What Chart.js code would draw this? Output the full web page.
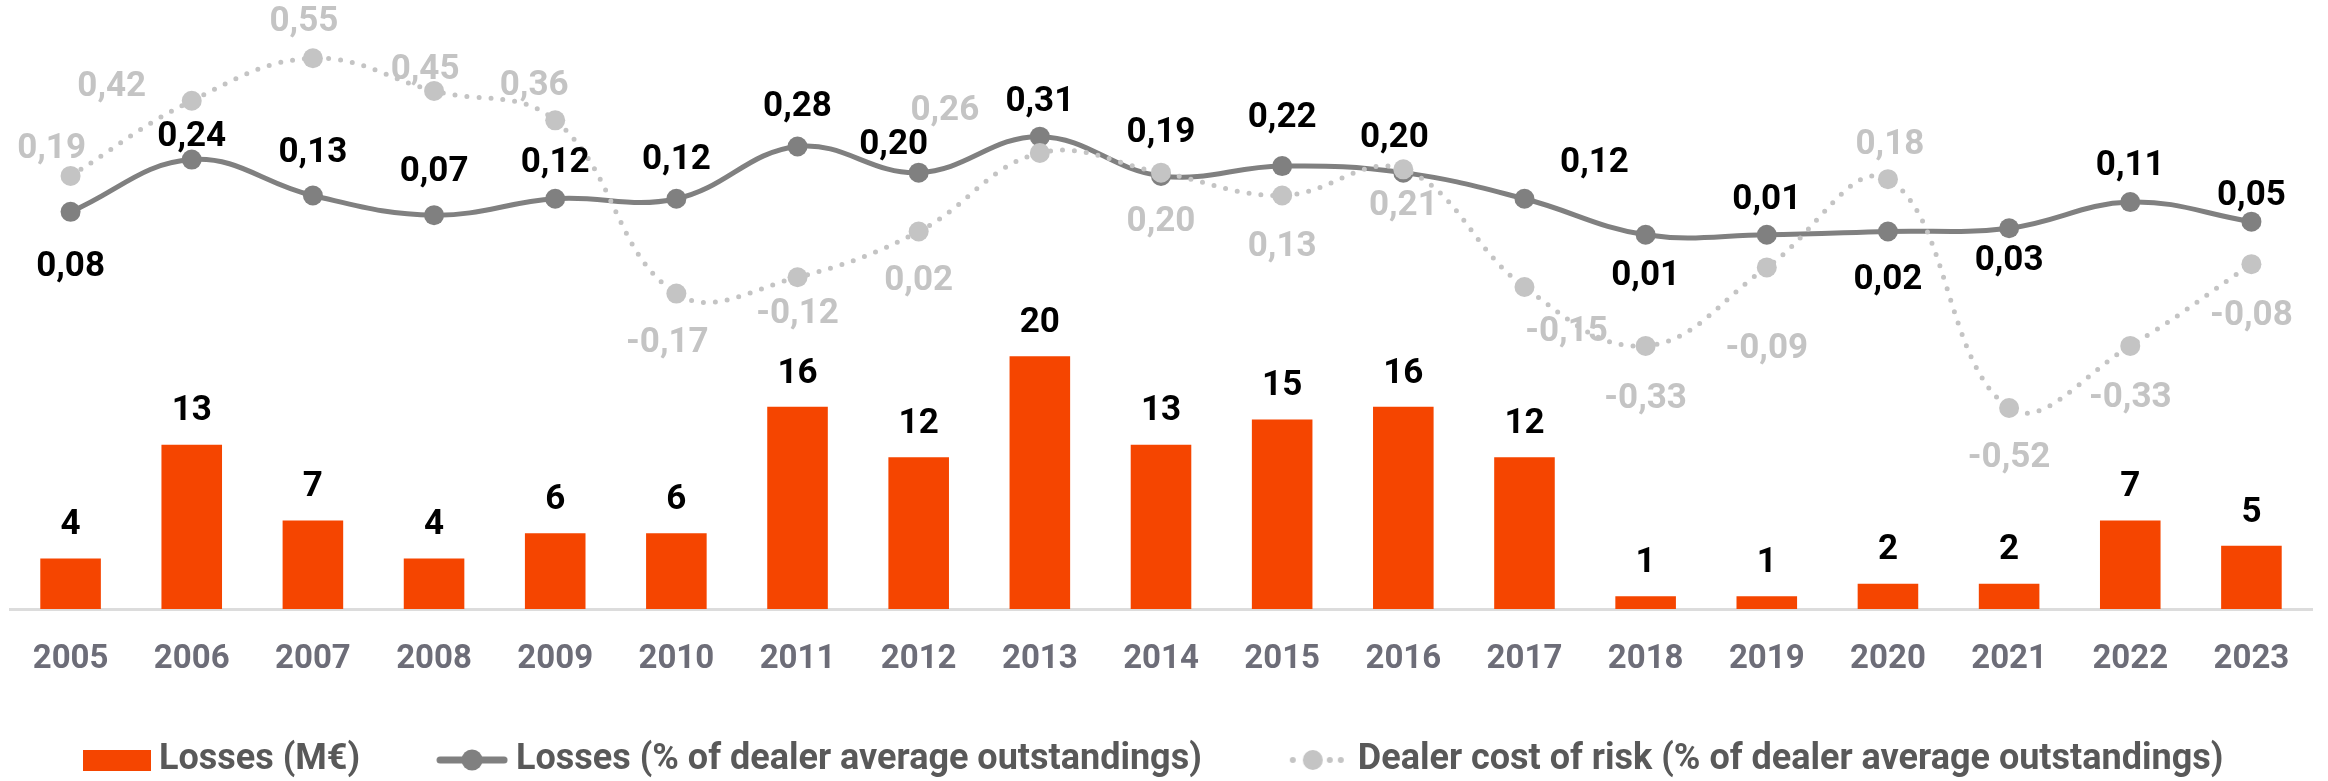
<!DOCTYPE html>
<html>
<head>
<meta charset="utf-8">
<script src="https://cdn.jsdelivr.net/npm/chart.js@4.4.1/dist/chart.umd.min.js"></script>
<style>
html, body { margin: 0; padding: 0; background: #fff; }
#caja { width: 2328px; height: 781px; }
</style>
</head>
<body>
<div id="caja"><canvas id="grafica"></canvas></div>
<script>
var years = ['2005','2006','2007','2008','2009','2010','2011','2012','2013','2014','2015','2016','2017','2018','2019','2020','2021','2022','2023'];
var lossesMeur = [4, 13, 7, 4, 6, 6, 16, 12, 20, 13, 15, 16, 12, 1, 1, 2, 2, 7, 5];
var lossesPct = [0.08, 0.24, 0.13, 0.07, 0.12, 0.12, 0.28, 0.20, 0.31, 0.19, 0.22, 0.20, 0.12, 0.01, 0.01, 0.02, 0.03, 0.11, 0.05];
var dealerCor = [0.19, 0.42, 0.55, 0.45, 0.36, -0.17, -0.12, 0.02, 0.26, 0.20, 0.13, 0.21, -0.15, -0.33, -0.09, 0.18, -0.52, -0.33, -0.08];

// nudges for the value labels (px from the point)
var pctDx = [0, 0, 0, 0, 0, 0, 0, -25, 0, 0, 0, -9, 70, 0, 0, 0, 0, 0, 0];
var pctDy = [55, -22, -42, -43, -36, -39, -39, -27, -34, -43, -48, -34, -36, 42, -34, 49, 33, -36, -25];
var corDx = [-19, -80, -9, -9, -21, -9, 0, 0, -95, 0, 0, 0, 42, 0, 0, 2, 0, 0, 0];
var corDy = [-27, -13, -36, -21, -34, 50, 37, 50, -42, 50, 52, 37, 45, 53, 82, -34, 50, 52, 52];

var naranja = '#F54500';
var gris = '#808080';
var claro = '#C4C4C4';
var fuente = 'Roboto';

function fmt(v){
    return v.toFixed(2).replace('.', ',');
}

// legend icons, drawn flush to the right so the text sits close
function icono(tipo){
    var c = document.createElement('canvas');
    c.width = 148; c.height = 24;
    var g = c.getContext('2d');
    if(tipo == 'bar'){
        g.fillStyle = naranja;
        g.fillRect(80, 2, 68, 21);
    } else if(tipo == 'line'){
        g.strokeStyle = gris; g.lineWidth = 7; g.lineCap = 'round';
        g.beginPath(); g.moveTo(80, 12); g.lineTo(144, 12); g.stroke();
        g.fillStyle = gris;
        g.beginPath(); g.arc(112, 12, 10.5, 0, 2*Math.PI); g.fill();
    } else {
        g.fillStyle = claro;
        g.beginPath(); g.arc(111, 12, 10, 0, 2*Math.PI); g.fill();
        [91, 128, 139].forEach(function(x){
            g.beginPath(); g.arc(x, 12, 3, 0, 2*Math.PI); g.fill();
        });
    }
    return c;
}
var iconos = [icono('bar'), icono('line'), icono('dots')];

var etiquetas = {
    id: 'etiquetas',
    afterDatasetsDraw: function(chart){
        var ctx = chart.ctx;
        ctx.save();
        ctx.font = '700 35px ' + fuente;
        ctx.textAlign = 'center';
        ctx.textBaseline = 'middle';
        chart.getDatasetMeta(0).data.forEach(function(bar, i){
            ctx.fillStyle = '#000';
            ctx.fillText(String(lossesMeur[i]), bar.x, bar.y - 33);
        });
        chart.getDatasetMeta(2).data.forEach(function(p, i){
            ctx.fillStyle = claro;
            ctx.fillText(fmt(dealerCor[i]), p.x + corDx[i], p.y + corDy[i]);
        });
        chart.getDatasetMeta(1).data.forEach(function(p, i){
            ctx.fillStyle = '#000';
            ctx.fillText(fmt(lossesPct[i]), p.x + pctDx[i], p.y + pctDy[i]);
        });
        ctx.restore();
    }
};

var ctx = document.getElementById('grafica').getContext('2d');
var chart = new Chart(ctx, {
    type: 'bar',
    data: {
        labels: years,
        datasets: [{
            label: 'Losses (M€)',
            data: lossesMeur,
            backgroundColor: naranja,
            yAxisID: 'yBar',
            barPercentage: 0.5,
            categoryPercentage: 1,
            order: 3
        }, {
            type: 'line',
            label: 'Losses (% of dealer average outstandings)',
            data: lossesPct,
            borderColor: gris,
            backgroundColor: gris,
            borderWidth: 5,
            pointRadius: 10,
            pointBorderWidth: 0,
            pointBackgroundColor: gris,
            tension: 0.4,
            yAxisID: 'yPct',
            order: 2
        }, {
            type: 'line',
            label: 'Dealer cost of risk (% of dealer average outstandings)',
            data: dealerCor,
            borderColor: claro,
            backgroundColor: claro,
            borderWidth: 5,
            borderDash: [0, 12],
            borderCapStyle: 'round',
            pointRadius: 10,
            pointBorderWidth: 0,
            pointBackgroundColor: claro,
            tension: 0.4,
            yAxisID: 'yPct',
            order: 1
        }]
    },
    options: {
        responsive: true,
        maintainAspectRatio: false,
        devicePixelRatio: 1,
        animation: false,
        layout: { padding: { top: 20, left: 3, right: 16, bottom: -7 } },
        plugins: {
            tooltip: { enabled: false },
            legend: {
                position: 'bottom',
                align: 'start',
                labels: {
                    usePointStyle: true,
                    pointStyleWidth: 128,
                    padding: 10,
                    color: '#595959',
                    font: { family: fuente, size: 36, weight: '700' },
                    sort: function(a, b){ return a.datasetIndex - b.datasetIndex; },
                    generateLabels: function(chart){
                        var items = Chart.defaults.plugins.legend.labels.generateLabels(chart);
                        items.forEach(function(it){ it.pointStyle = iconos[it.datasetIndex]; });
                        return items;
                    }
                }
            }
        },
        scales: {
            x: {
                grid: { display: false, drawTicks: false },
                border: { display: true, color: '#DCDCDC', width: 3 },
                ticks: { color: '#6D6D78', padding: 31, font: { family: fuente, size: 33, weight: '700' } },
                afterFit: function(s){ s.height = 123; }
            },
            yBar: { display: false, min: 0, max: 46.6 },
            yPct: { display: false, min: -1.135, max: 0.667 }
        }
    },
    plugins: [etiquetas]
});
</script>
</body>
</html>
